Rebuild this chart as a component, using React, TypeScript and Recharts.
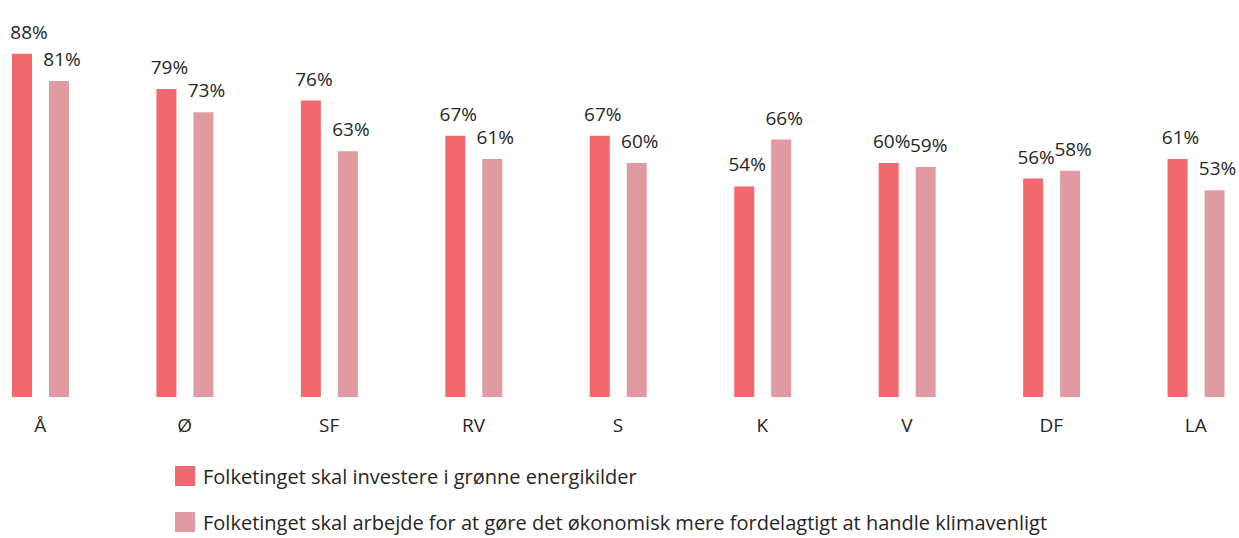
import { BarChart, Bar, XAxis, YAxis, LabelList, Legend } from "recharts";

const parties = ["Å", "Ø", "SF", "RV", "S", "K", "V", "DF", "LA"];
const investGreen = [88, 79, 76, 67, 67, 54, 60, 56, 61];
const climateEconomy = [81, 73, 63, 61, 60, 66, 59, 58, 53];
const seriesNames = [
  "Folketinget skal investere i grønne energikilder",
  "Folketinget skal arbejde for at gøre det økonomisk mere fordelagtigt at handle klimavenligt",
];

const COLORS = ["#f1686f", "#e09aa2"];
const FONT = "'Open Sans', sans-serif";
const TEXT = "#262626";

const data = parties.map((p, i) => ({
  party: p,
  invest: investGreen[i],
  economy: climateEconomy[i],
}));

// keep value labels inside the visible page (first bar sits close to the edge)
function ValueLabel(props: any) {
  const { x, y, width, value } = props;
  const cx = Math.max(x + width / 2 + 3, 61);
  return (
    <text x={cx} y={y - 15} textAnchor="middle" fill={TEXT} fontSize={19} fontFamily={FONT}>
      {`${value}%`}
    </text>
  );
}

function LegendBox({ payload }: { payload?: { value: string; color: string }[] }) {
  if (!payload) return null;
  const items = [...payload].sort((a, b) => seriesNames.indexOf(a.value) - seriesNames.indexOf(b.value));
  return (
    <div style={{ fontFamily: FONT, fontSize: 20, color: TEXT }}>
      {items.map((entry) => (
        <div key={entry.value} style={{ display: "flex", alignItems: "center", height: 46 }}>
          <span style={{ width: 20, height: 20, background: entry.color, marginRight: 8, flexShrink: 0 }} />
          <span style={{ position: "relative", top: 1, whiteSpace: "nowrap", lineHeight: "26px" }}>{entry.value}</span>
        </div>
      ))}
    </div>
  );
}

export default function App() {
  return (
    <div style={{ position: "fixed", left: 0, top: 0, width: 1239, height: 538, overflow: "hidden", background: "#fff" }}>
      <div style={{ position: "absolute", left: -32, top: 0 }}>
        <BarChart
          width={1300}
          height={538}
          data={data}
          margin={{ top: 7, right: 0, bottom: 101, left: 0 }}
          barSize={20}
          barGap={17}
        >
          <YAxis hide domain={[0, 100]} />
          <XAxis
            dataKey="party"
            axisLine={false}
            tickLine={false}
            tickSize={0}
            height={40}
            tickMargin={22}
            tick={{ fill: TEXT, fontSize: 19, fontFamily: FONT }}
          />
          <Legend
            layout="horizontal"
            verticalAlign="middle"
            align="center"
            wrapperStyle={{ top: 453, left: 207, width: "auto", height: "auto", overflow: "visible" }}
            content={<LegendBox />}
          />
          <Bar dataKey="invest" name={seriesNames[0]} fill={COLORS[0]} isAnimationActive={false}>
            <LabelList dataKey="invest" content={<ValueLabel />} />
          </Bar>
          <Bar dataKey="economy" name={seriesNames[1]} fill={COLORS[1]} isAnimationActive={false}>
            <LabelList dataKey="economy" content={<ValueLabel />} />
          </Bar>
        </BarChart>
      </div>
    </div>
  );
}
